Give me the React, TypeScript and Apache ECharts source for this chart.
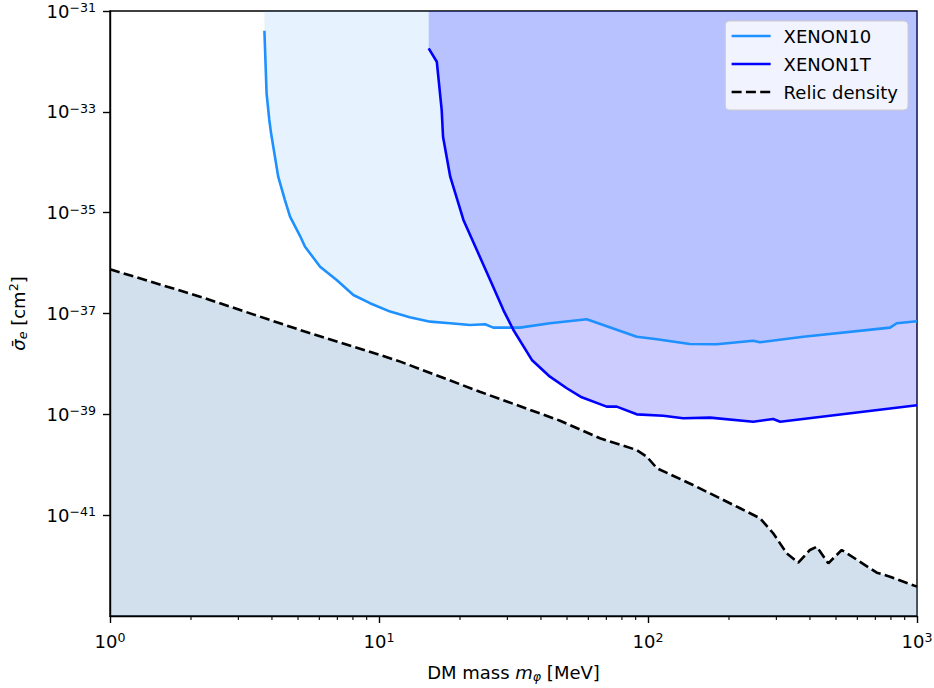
import React, { useEffect, useRef } from "react";
import * as echarts from "echarts";

// ---- data ----
const xenon10Mass = [3.75, 3.82, 3.91, 3.97, 4.22, 4.47, 4.67, 5.09, 5.31, 6.04, 6.96, 8.03, 9.26, 11.0, 13.0, 15.5, 18.4, 21.8, 24.8, 26.6, 33.4, 43.2, 59.2, 90.8, 108, 143, 180, 246, 261, 378, 794, 841, 1000];
const xenon10Sigma = [4.06e-32, 2.33e-33, 6.89e-34, 3.75e-34, 5.18e-35, 1.78e-35, 8.32e-36, 3.44e-36, 2.11e-36, 8.49e-37, 4.62e-37, 2.33e-37, 1.6e-37, 1.09e-37, 8.41e-38, 6.89e-38, 6.4e-38, 5.92e-38, 6.11e-38, 5.24e-38, 5.24e-38, 6.4e-38, 7.67e-38, 3.47e-38, 3.08e-38, 2.48e-38, 2.45e-38, 2.89e-38, 2.69e-38, 3.47e-38, 5.24e-38, 6.4e-38, 7.01e-38];

const xenon1TMass = [15.3, 16.4, 17.1, 17.3, 18.4, 20.6, 23.7, 25.9, 29.0, 31.6, 37.0, 43.2, 49.9, 56.7, 70.2, 76.5, 90.8, 114, 135, 170, 246, 292, 310, 1000];
const xenon1TSigma = [1.82e-32, 9.87e-33, 1.09e-33, 3.21e-34, 5.18e-35, 7.16e-36, 1.34e-36, 4.62e-37, 1.17e-37, 4.71e-38, 1.2e-38, 5.58e-39, 3.29e-39, 2.18e-39, 1.42e-39, 1.42e-39, 1.0e-39, 9.4e-40, 8.36e-40, 8.59e-40, 7.15e-40, 8.09e-40, 7.15e-40, 1.51e-39];

const relicMass = [1, 2.16, 5.09, 10.1, 12.0, 23.7, 47.1, 66.3, 90.8, 98.9, 108, 147, 220, 261, 292, 328, 362, 400, 424, 468, 525, 709, 794, 1000];
const relicSigma = [7.53e-37, 2.16e-37, 4.71e-38, 1.5e-38, 1.11e-38, 2.81e-39, 7.48e-40, 3.35e-40, 1.96e-40, 1.45e-40, 8.51e-41, 3.97e-41, 1.37e-41, 8.68e-42, 4.38e-42, 1.75e-42, 1.14e-42, 2.04e-42, 2.37e-42, 1.11e-42, 2.04e-42, 7.24e-43, 6.03e-43, 3.82e-43];

const xMin = 1;
const xMax = 1000;
const yMin = 1e-43;
const yMax = 1e-31;
const xMinorTicks = [2, 3, 4, 5, 6, 7, 8, 9, 20, 30, 40, 50, 60, 70, 80, 90, 200, 300, 400, 500, 600, 700, 800, 900];

const seriesNames = ["XENON10", "XENON1T", "Relic density"];
const xAxisTitle = "DM mass {i|m}{sub|\u03c6} [MeV]";
const yAxisTitle = "{s|\u03c3\u0304}{e|e} [cm{p|2}]";

const FONT = "DejaVu Sans";

const zip = (a: number[], b: number[]) => a.map((v, i) => [v, b[i]]);

const powLabel = (v: number) => {
  const e = Math.round(Math.log10(v));
  const s = e < 0 ? "\u2212" + String(-e) : String(e);
  return "{b|10}{s|" + s + "}";
};

const labelRich = {
  b: { fontSize: 18, fontFamily: FONT, color: "#000", lineHeight: 20 },
  s: { fontSize: 12.6, fontFamily: FONT, color: "#000", lineHeight: 11, verticalAlign: "top" },
};

const titleRich = {
  i: { fontSize: 18, fontFamily: FONT, fontStyle: "italic", fill: "#000", lineHeight: 22 },
  sub: { fontSize: 12.6, fontFamily: FONT, fontStyle: "italic", fill: "#000", lineHeight: 12, verticalAlign: "bottom" },
  s: { fontSize: 18, fontFamily: FONT, fontStyle: "italic", fill: "#000", lineHeight: 22 },
  e: { fontSize: 12.6, fontFamily: FONT, fontStyle: "italic", fill: "#000", lineHeight: 12, verticalAlign: "bottom" },
  p: { fontSize: 12.6, fontFamily: FONT, fill: "#000", lineHeight: 11, verticalAlign: "top" },
};

// filled region between a curve and a horizontal edge (top or bottom of the axis range)
const regionSeries = (name: string, xs: number[], ys: number[], edgeY: number, color: string) => ({
  name,
  type: "custom",
  silent: true,
  clip: true,
  data: [[xs[0], ys[0]]],
  renderItem: (params: any, api: any) => {
    const pts = xs.map((x, i) => api.coord([x, ys[i]]));
    pts.push(api.coord([xs[xs.length - 1], edgeY]));
    pts.push(api.coord([xs[0], edgeY]));
    return { type: "polygon", shape: { points: pts }, style: { fill: color } };
  },
});

export default function App() {
  const ref = useRef<HTMLDivElement>(null);
  useEffect(() => {
    if (!ref.current) return;
    const chart = echarts.init(ref.current, null, { renderer: "svg" });
    const axisLine = { show: true, lineStyle: { color: "#000", width: 1.4 } };
    const option: any = {
      animation: false,
      backgroundColor: "#fff",
      grid: {
        left: 110,
        top: 11,
        right: 17,
        bottom: 72,
        containLabel: false,
        outerBoundsMode: "none",
        show: true,
        borderColor: "#000",
        borderWidth: 1.4,
        backgroundColor: "transparent",
      },
      legend: {
        data: seriesNames,
        orient: "vertical",
        right: 26,
        top: 21,
        backgroundColor: "rgba(255,255,255,0.8)",
        borderColor: "#cccccc",
        borderWidth: 1,
        borderRadius: 4,
        padding: [6, 10, 9, 5],
        itemWidth: 39,
        itemHeight: 14,
        itemGap: 10,
        lineStyle: { width: 2.6 },
        itemStyle: { opacity: 0 },
        textStyle: { fontSize: 18, fontFamily: FONT, color: "#000", padding: [0, 0, 0, 8] },
        z: 20,
      },
      graphic: [
        {
          type: "text",
          x: 18,
          y: 313.5,
          rotation: Math.PI / 2,
          z: 20,
          style: {
            text: yAxisTitle,
            fontSize: 18,
            fontFamily: FONT,
            fill: "#000",
            align: "center",
            verticalAlign: "middle",
            rich: titleRich,
          },
        },
        {
          type: "text",
          x: 513.5,
          y: 672,
          z: 20,
          style: {
            text: xAxisTitle,
            fontSize: 18,
            fontFamily: FONT,
            fill: "#000",
            align: "center",
            verticalAlign: "middle",
            rich: titleRich,
          },
        },
      ],
      xAxis: {
        type: "log",
        logBase: 10,
        min: xMin,
        max: xMax,
        interval: 1,
        z: 10,
        axisLine,
        axisTick: { show: true, length: 7, lineStyle: { color: "#000", width: 1.4 } },
        splitLine: { show: false },
        axisLabel: { margin: 15, formatter: powLabel, rich: labelRich },
      },
      yAxis: {
        type: "log",
        logBase: 10,
        min: yMin,
        max: yMax,
        interval: 2,
        z: 10,
        axisLine,
        axisTick: { show: true, length: 7, lineStyle: { color: "#000", width: 1.4 } },
        splitLine: { show: false },
        axisLabel: { margin: 14, formatter: powLabel, rich: labelRich },
      },
      series: [
        regionSeries("XENON10 region", xenon10Mass, xenon10Sigma, yMax, "rgba(30,144,255,0.11)"),
        {
          name: "XENON10",
          type: "line",
          data: zip(xenon10Mass, xenon10Sigma),
          symbol: "none",
          lineStyle: { color: "#1e90ff", width: 2.6 },
          itemStyle: { color: "#1e90ff" },
        },
        regionSeries("XENON1T region", xenon1TMass, xenon1TSigma, yMax, "rgba(0,0,255,0.2)"),
        {
          name: "XENON1T",
          type: "line",
          data: zip(xenon1TMass, xenon1TSigma),
          symbol: "none",
          lineStyle: { color: "#0000ff", width: 2.6 },
          itemStyle: { color: "#0000ff" },
        },
        regionSeries("Relic region", relicMass, relicSigma, yMin, "rgba(70,130,180,0.25)"),
        {
          name: "Relic density",
          type: "line",
          data: zip(relicMass, relicSigma),
          symbol: "none",
          lineStyle: { color: "#000", width: 2.6, type: [10, 4.3] },
          itemStyle: { color: "#000" },
        },
        {
          name: "minorTicks",
          type: "custom",
          silent: true,
          clip: false,
          z: 10,
          data: xMinorTicks.map((v) => [v, yMin]),
          renderItem: (params: any, api: any) => {
            const p = api.coord([api.value(0), api.value(1)]);
            return {
              type: "line",
              shape: { x1: p[0], y1: p[1], x2: p[0], y2: p[1] + 4 },
              style: { stroke: "#000", lineWidth: 1.1 },
            };
          },
        },
      ],
    };
    chart.setOption(option);
    return () => chart.dispose();
  }, []);
  return (
    <div
      ref={ref}
      style={{ position: "fixed", left: 0, top: 0, width: 934, height: 688, background: "#fff" }}
    />
  );
}
